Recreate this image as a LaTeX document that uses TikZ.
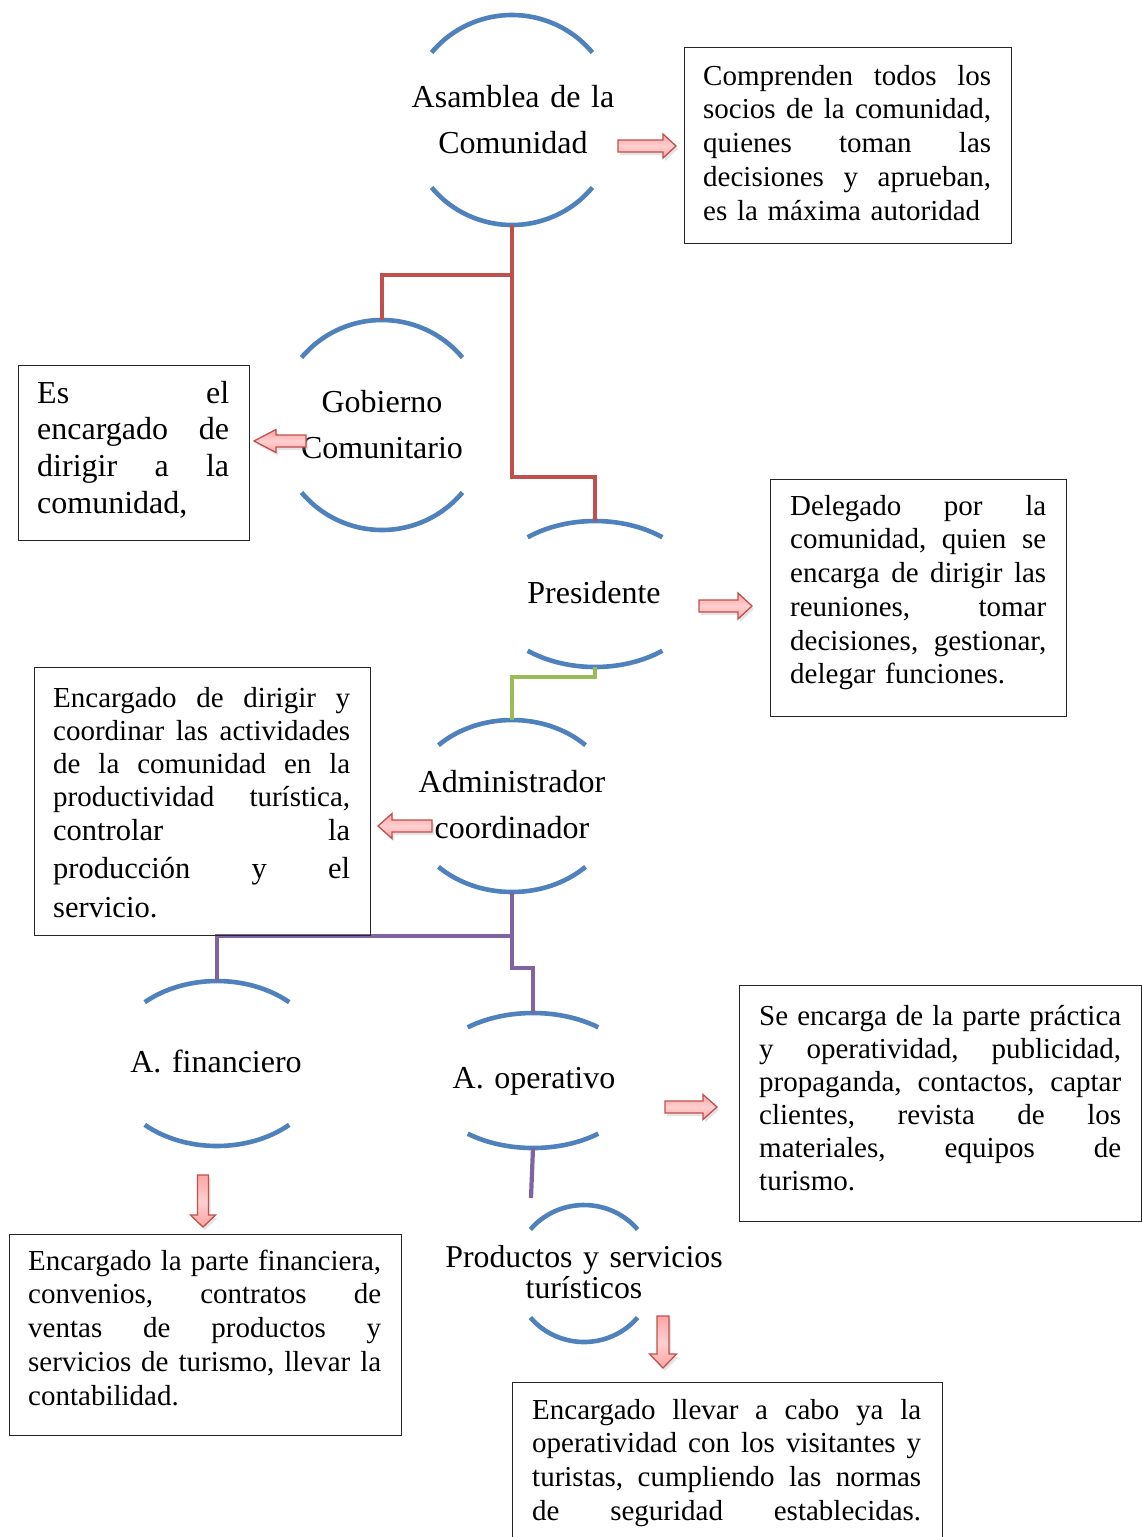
\documentclass[tikz,border=0pt]{standalone}
\usepackage{fontspec}
\setmainfont{Liberation Serif}
\usetikzlibrary{calc}
\definecolor{sblue}{HTML}{4F81BD}
\definecolor{sred}{HTML}{C0504D}
\definecolor{sgreen}{HTML}{9BBB59}
\definecolor{spurple}{HTML}{8064A2}
\definecolor{afillA}{HTML}{FFCFCF}
\definecolor{afillB}{HTML}{FFA4A4}
\definecolor{boxline}{HTML}{262626}
\newcommand\jl[1]{\leavevmode\hbox to\hsize{\frenchspacing\spaceskip=\fontdimen2\font plus 1fil\relax #1}}
\newcommand\orgarcs[6]{%
  \coordinate (#1-c) at (#2,#3);
  \coordinate (#1-t) at (#2,{#3-#5});
  \coordinate (#1-b) at (#2,{#3+#5});
  \draw[arcline] (#1-c) ++({180-#6}:#4pt and #5pt) arc[start angle={180-#6}, end angle={#6}, x radius=#4pt, y radius=#5pt];
  \draw[arcline] (#1-c) ++({180+#6}:#4pt and #5pt) arc[start angle={180+#6}, end angle={360-#6}, x radius=#4pt, y radius=#5pt];
}
\newcommand\barrow[7]{%
  \begin{scope}[shift={(#1+2,#2+3)},rotate=#3]
    \fill[black!35,opacity=.3] (0,-#6) -- ({#4-#5},-#6) -- ({#4-#5},-#7) -- (#4,0) -- ({#4-#5},#7) -- ({#4-#5},#6) -- (0,#6) -- cycle;
  \end{scope}
  \begin{scope}[shift={(#1,#2)},rotate=#3]
    \draw[arrowst] (0,-#6) -- ({#4-#5},-#6) -- ({#4-#5},-#7) -- (#4,0) -- ({#4-#5},#7) -- ({#4-#5},#6) -- (0,#6) -- cycle;
  \end{scope}
}
\begin{document}
\begin{tikzpicture}[x=1pt,y=-1pt,
  arcline/.style={draw=sblue, line width=4.6pt},
  conn/.style={line width=4.2pt},
  arrowst/.style={draw=sred, line width=1.3pt, top color=afillB, bottom color=afillB, middle color=afillA},
  boxst/.style={draw=boxline, line width=1.3pt, anchor=north west, inner sep=0, fill=none},
  lbl/.style={anchor=north, inner sep=0, text width=300pt, align=center, font=\fontsize{32}{46}\selectfont},
  btxt/.style={anchor=north west, inner sep=0, align=left, font=\fontsize{29}{33.75}\selectfont}]
\useasboundingbox (0,0) rectangle (1142,1537);
\clip (0,0) rectangle (1142,1537);
\fill[white] (0,0) rectangle (1142,1537);

% org units: arcs
\orgarcs{asam}{512}{120}{105}{105}{40}
\orgarcs{gob}{382}{425}{105}{105}{40}
\orgarcs{pres}{595}{594}{107}{73}{51}
\orgarcs{adm}{512}{806}{104}{86}{45}
\orgarcs{fin}{217}{1063.5}{108}{82.5}{48}
\orgarcs{ope}{533}{1080.5}{106}{67.5}{52}
\orgarcs{prod}{584}{1273.5}{70}{68.5}{40}

% labels
\node[lbl] (asam) at (513,{107-26}) {\rule{0pt}{26pt}Asamblea de la\\Comunidad};
\node[lbl] (gob) at (382,{412-26}) {\rule{0pt}{26pt}Gobierno\\Comunitario};
\node[lbl] (pres) at (594,{603-26}) {\rule{0pt}{26pt}Presidente};
\node[lbl] (adm) at (512,{792-26}) {\rule{0pt}{26pt}Administrador\\coordinador};
\node[lbl] (fin) at (216,{1072-26}) {\rule{0pt}{26pt}A. financiero};
\node[lbl] (ope) at (534,{1088-26}) {\rule{0pt}{26pt}A. operativo};
\node[lbl, font=\fontsize{31.8}{31}\selectfont] (prod) at (584,{1267-26}) {\rule{0pt}{26pt}Productos y servicios\\turísticos};

% connectors
\coordinate (j0) at (512,275);
\coordinate (j1) at (512,477);
\draw[conn, sred] (asam-b) -- (j1) -| (pres-t);
\draw[conn, sred] (j0) -| (gob-t);
\draw[conn, sgreen] (pres-b) -- ++(0,10) -| (adm-t);
\coordinate (j3) at (512,936);
\coordinate (j4) at (512,968);
\draw[conn, spurple] (adm-b) -- (j3) -| (fin-t);
\draw[conn, spurple] (j3) -- (j4) -| (ope-t);
\coordinate (pend) at (531,1198);
\draw[conn, spurple] (ope-b) -- (pend);

% boxes
\node[boxst, minimum width=327pt, minimum height=196pt] (boxA) at (684,47) {};
\node[boxst, minimum width=231pt, minimum height=175pt] (boxG) at (18,365) {};
\node[boxst, minimum width=296pt, minimum height=237pt] (boxP) at (770,479) {};
\node[boxst, minimum width=336pt, minimum height=268pt] (boxAd) at (34,667) {};
\node[boxst, minimum width=402pt, minimum height=236pt] (boxOp) at (739,985) {};
\node[boxst, minimum width=392pt, minimum height=201pt] (boxF) at (9,1234) {};
\node[boxst, minimum width=430pt, minimum height=200pt] (boxPS) at (512,1382) {};

% box texts
\node[btxt, text width=288pt] (tA) at (703,{85-25}) {\jl{\rule{0pt}{25pt}Comprenden todos los}\\\jl{socios de la comunidad,}\\\jl{quienes toman las}\\\jl{decisiones y aprueban,}\\es la máxima autoridad};
\node[btxt, text width=192pt, font=\fontsize{32}{36.7}\selectfont] (tG) at (37,{403-25}) {\jl{\rule{0pt}{25pt}Es el}\\\jl{encargado de}\\\jl{dirigir a la}\\comunidad,};
\node[btxt, text width=256pt] (tP) at (790,{515-25}) {\jl{\rule{0pt}{25pt}Delegado por la}\\\jl{comunidad, quien se}\\\jl{encarga de dirigir las}\\\jl{reuniones, tomar}\\\jl{decisiones, gestionar,}\\delegar funciones.};
\node[btxt, text width=297pt, font=\fontsize{29}{33}\selectfont] (tAd1) at (53,{707-25}) {\jl{\rule{0pt}{25pt}Encargado de dirigir y}\\\jl{coordinar las actividades}\\\jl{de la comunidad en la}\\\jl{productividad turística,}};
\node[btxt, text width=297pt, font=\fontsize{30.5}{38.5}\selectfont] (tAd2) at (53,{840-25}) {\jl{\rule{0pt}{25pt}controlar la}\\\jl{producción y el}\\servicio.};
\node[btxt, text width=362pt, font=\fontsize{29}{33}\selectfont] (tOp) at (759,{1025-25}) {\jl{\rule{0pt}{25pt}Se encarga de la parte práctica}\\\jl{y operatividad, publicidad,}\\\jl{propaganda, contactos, captar}\\\jl{clientes, revista de los}\\\jl{materiales, equipos de}\\turismo.};
\node[btxt, text width=353pt] (tF) at (28,{1270-25}) {\jl{\rule{0pt}{25pt}Encargado la parte financiera,}\\\jl{convenios, contratos de}\\\jl{ventas de productos y}\\\jl{servicios de turismo, llevar la}\\contabilidad.};
\node[btxt, text width=389pt] (tPS) at (532,{1419-25}) {\jl{\rule{0pt}{25pt}Encargado llevar a cabo ya la}\\\jl{operatividad con los visitantes y}\\\jl{turistas, cumpliendo las normas}\\\jl{de seguridad establecidas.}};

% block arrows
\barrow{618}{146}{0}{58}{13}{6}{12}
\barrow{306}{441}{180}{52}{22}{6}{11.5}
\barrow{699}{606}{0}{53}{14}{6}{13}
\barrow{432}{826}{180}{54}{14}{6}{12.5}
\barrow{203}{1175}{-90}{52}{12}{5.5}{12.5}
\barrow{665}{1107}{0}{52}{14}{6}{12.5}
\barrow{663}{1316}{-90}{52}{14}{6}{13.5}
\end{tikzpicture}
\end{document}
